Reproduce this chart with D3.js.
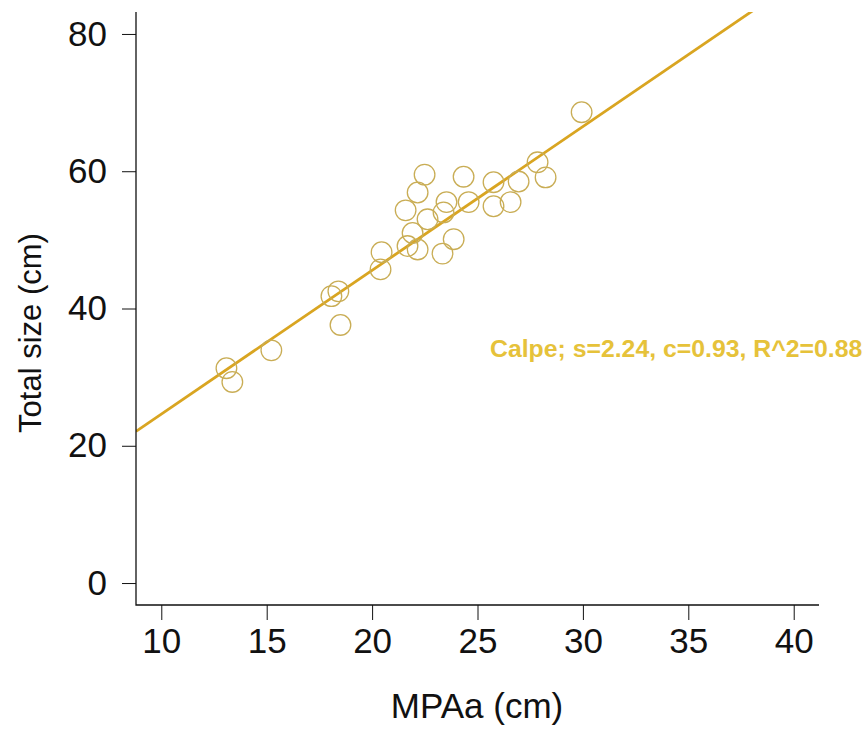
<!DOCTYPE html>
<html>
<head>
<meta charset="utf-8">
<script src="https://cdn.jsdelivr.net/npm/d3@7"></script>
<style>
    body { margin: 0; background: #fff; }
    .axis text { font-family: "Liberation Sans", Arial, sans-serif; fill: #111; }
    .axis line { stroke: #111; }
</style>
</head>
<body>
<script>
//data
var mpaa = [29.94, 27.85, 28.23, 26.95, 25.76, 25.76, 26.57, 24.34, 24.58, 22.49,
            22.16, 23.53, 23.39, 22.63, 21.59, 21.92, 21.68, 22.16, 23.87, 23.34,
            20.45, 20.40, 18.40, 18.07, 18.50, 15.22, 13.09, 13.37];
var totalSize = [68.6, 61.3, 59.1, 58.5, 58.4, 54.9, 55.5, 59.2, 55.5, 59.5,
                 56.9, 55.5, 54.0, 53.0, 54.3, 51.0, 49.1, 48.6, 50.1, 48.0,
                 48.2, 45.7, 42.5, 41.8, 37.6, 33.9, 31.3, 29.3];
var fitSlope = 2.095,
    fitIntercept = 3.66;
var xTicks = [10, 15, 20, 25, 30, 35, 40];
var yTicks = [0, 20, 40, 60, 80];
var fitLabel = "Calpe; s=2.24, c=0.93, R^2=0.88";

window.onload = drawPlot();

function drawPlot(){
    var width = 867,
        height = 733;

    var svg = d3.select("body")
        .append("svg")
        .attr("width", width)
        .attr("height", height);

    //R style limits, padded 4% each side
    var x = d3.scaleLinear().domain([8.8, 41.2]).range([136, 819]);
    var y = d3.scaleLinear().domain([-3.2, 83.2]).range([605, 12]);

    //clip so the fit line stops at the plot region
    svg.append("clipPath").attr("id", "plotArea")
        .append("rect")
        .attr("x", x.range()[0]).attr("y", y.range()[1])
        .attr("width", x.range()[1] - x.range()[0])
        .attr("height", y.range()[0] - y.range()[1]);

    //fit line across the whole x range
    var xs = x.domain();
    svg.append("line")
        .attr("clip-path", "url(#plotArea)")
        .attr("x1", x(xs[0])).attr("y1", y(fitIntercept + fitSlope * xs[0]))
        .attr("x2", x(xs[1])).attr("y2", y(fitIntercept + fitSlope * xs[1]))
        .attr("stroke", "#D9A521")
        .attr("stroke-width", 2.8);

    //open circles
    svg.selectAll(".pt")
        .data(mpaa)
        .enter()
        .append("circle")
        .attr("class", "pt")
        .attr("cx", function(d){ return x(d); })
        .attr("cy", function(d, i){ return y(totalSize[i]); })
        .attr("r", 10.3)
        .attr("fill", "none")
        .attr("stroke", "#C9AD55")
        .attr("stroke-width", 1.3);

    //axes
    var xAxis = svg.append("g")
        .attr("class", "axis")
        .attr("transform", "translate(0," + y.range()[0] + ")")
        .call(d3.axisBottom(x).tickValues(xTicks).tickSize(15).tickPadding(8));
    xAxis.selectAll("text").style("font-size", "35px");

    var yAxis = svg.append("g")
        .attr("class", "axis")
        .attr("transform", "translate(" + x.range()[0] + ",0)")
        .call(d3.axisLeft(y).tickValues(yTicks).tickSize(14).tickPadding(15));
    yAxis.selectAll("text").style("font-size", "35px");

    svg.selectAll(".axis .domain").remove();

    //L shaped box
    svg.append("path")
        .attr("d", "M" + x.range()[0] + "," + y.range()[1] +
                   "V" + y.range()[0] + "H" + x.range()[1])
        .attr("fill", "none")
        .attr("stroke", "#111")
        .attr("stroke-width", 1.3);

    //axis titles
    svg.append("text")
        .attr("x", 477)
        .attr("y", 718)
        .attr("text-anchor", "middle")
        .style("font-family", "Liberation Sans, Arial, sans-serif")
        .style("font-size", "35px")
        .style("fill", "#111")
        .text("MPAa (cm)");

    svg.append("text")
        .attr("transform", "translate(41,333) rotate(-90)")
        .attr("text-anchor", "middle")
        .style("font-family", "Liberation Sans, Arial, sans-serif")
        .style("font-size", "31px")
        .style("fill", "#111")
        .text("Total size (cm)");

    //fit annotation
    svg.append("text")
        .attr("x", 490)
        .attr("y", 357)
        .style("font-family", "Liberation Sans, Arial, sans-serif")
        .style("font-weight", "bold")
        .style("font-size", "24.8px")
        .style("fill", "#E6C23A")
        .text(fitLabel);
}
</script>
</body>
</html>
